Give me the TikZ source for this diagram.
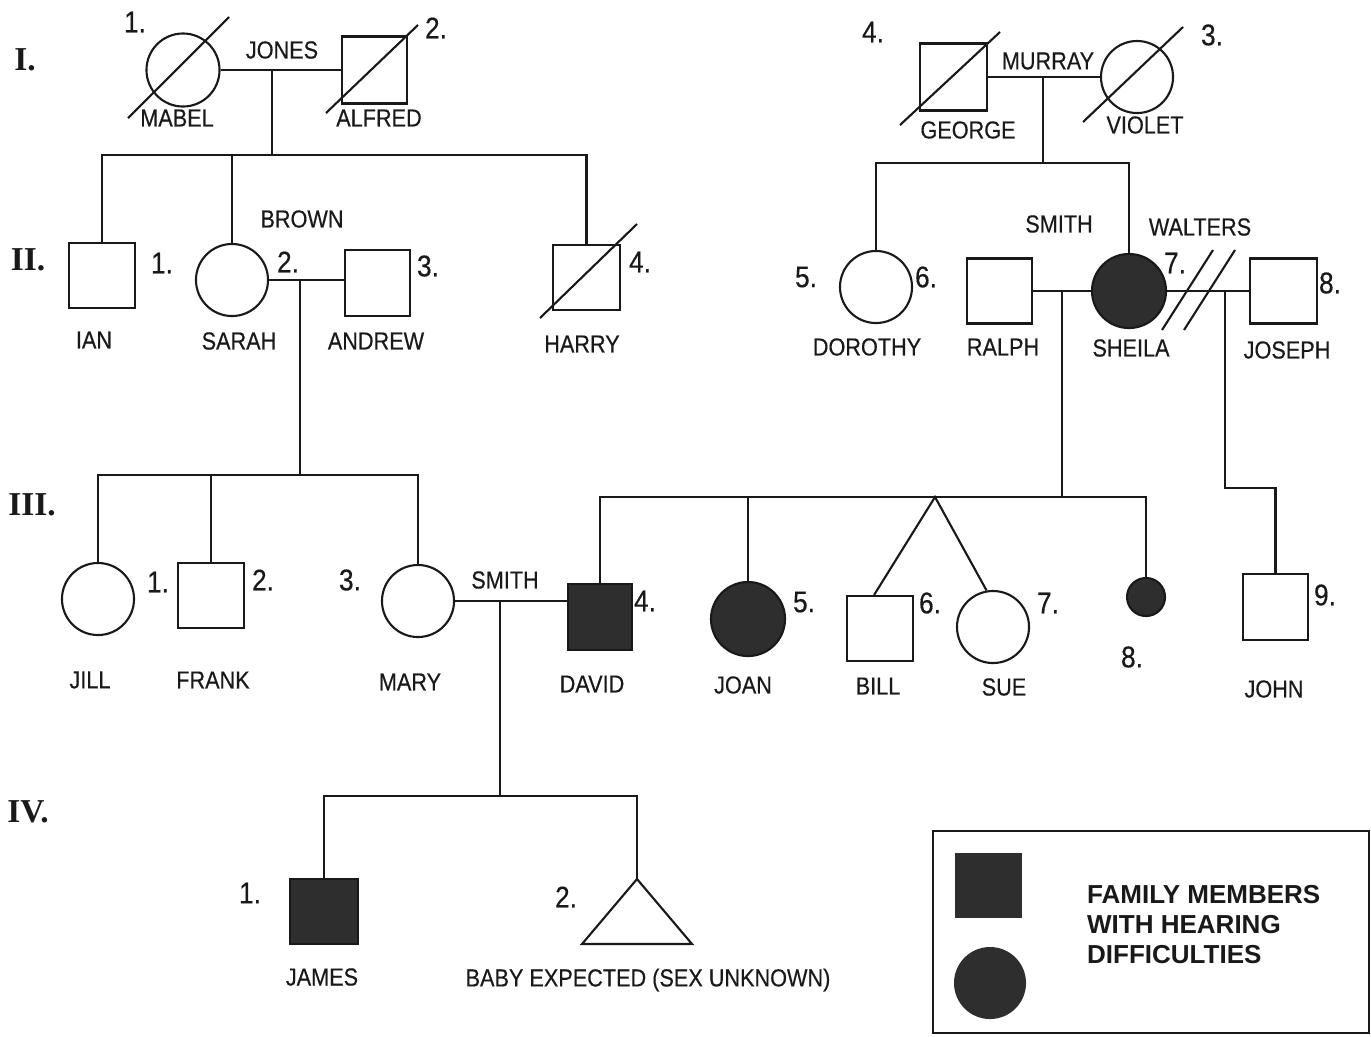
\documentclass[tikz,border=0pt]{standalone}
\usepackage{fontspec}
\setmainfont{Liberation Sans}[FakeStretch=0.88,FakeBold=0.4]
\newfontfamily\legfont{Liberation Sans}
\newfontfamily\romfont{Liberation Serif}
\begin{document}
\begin{tikzpicture}[x=0.01cm,y=-0.01cm, line width=0.6pt, color=black!90,
  sq/.style={draw, rectangle, inner sep=0pt, minimum width=6.6mm, minimum height=6.6mm},
  ci/.style={draw, circle, inner sep=0pt, minimum size=7.2mm},
  aff/.style={fill=black!82},
  nm/.style={inner sep=0pt, font=\fontsize{7}{8}\selectfont},
  nu/.style={inner sep=0pt, font=\fontsize{8.5}{9}\selectfont},
  gen/.style={inner sep=0pt, font=\romfont\bfseries\fontsize{9.5}{10}\selectfont},
  leg/.style={inner sep=0pt, anchor=west, font=\legfont\bfseries\fontsize{7.4}{8}\selectfont}]
\useasboundingbox (0,0) rectangle (1371,1036);

% generation labels
\node[gen] (gI) at (25,60) {I.};
\node[gen] (gII) at (28,260) {II.};
\node[gen] (gIII) at (32,505) {III.};
\node[gen] (gIV) at (28,812) {IV.};

% ---------- Generation I left
\node[ci, minimum size=7.3mm] (mabel) at (183,70) {};
\draw (128,118) -- (229,17);
\node[nu] (n11) at (135,22) {1.};
\node[nm] (tmabel) at (177,118) {MABEL};
\node[sq, minimum width=6.5mm, minimum height=6.7mm] (alfred) at (374.5,70) {};
\draw (326,113) -- (418,25);
\node[nu] (n12) at (436,28) {2.};
\node[nm] (talfred) at (379,118) {ALFRED};
\node[nm] (tjones) at (282,50) {JONES};
\coordinate (mI) at (272,70);
\coordinate (sI) at (272,155);
\draw (mabel.east) -- (alfred.west);
\draw (mI) -- (sI);

% ---------- Generation I right
\node[nu] (n14) at (873,32) {4.};
\node[sq, minimum width=6.7mm, minimum height=6.7mm] (george) at (953.5,77) {};
\draw (900,125) -- (1000,32);
\node[nm] (tgeorge) at (968,130) {GEORGE};
\node[nm] (tmurray) at (1048,61) {MURRAY};
\node[ci] (violet) at (1137,77) {};
\draw (1083,122) -- (1183,27);
\node[nm] (tviolet) at (1145,125) {VIOLET};
\node[nu] (n13) at (1212,35) {3.};
\coordinate (mIr) at (1043,77);
\coordinate (sIr) at (1043,163);
\draw (george.east) -- (violet.west);
\draw (mIr) -- (sIr);

% ---------- Generation II left
\node[sq, minimum width=6.6mm, minimum height=6.5mm] (ian) at (102,275.5) {};
\node[nu] (n21) at (162,263) {1.};
\node[nm] (tian) at (94,340) {IAN};
\node[ci] (sarah) at (232,280) {};
\node[nu] (n22) at (288,262) {2.};
\node[nm] (tsarah) at (239,341) {SARAH};
\node[nm] (tbrown) at (302,219) {BROWN};
\node[sq, minimum width=6.5mm, minimum height=6.6mm] (andrew) at (377.5,283) {};
\node[nu] (n23) at (428,266) {3.};
\node[nm] (tandrew) at (376,341) {ANDREW};
\node[sq, minimum width=6.7mm, minimum height=6.5mm] (harry) at (586.5,277.5) {};
\draw (540,318) -- (637,224);
\node[nu] (n24) at (640,262) {4.};
\node[nm] (tharry) at (582,344) {HARRY};
\draw (ian.north) |- (harry.north |- sI) -- (harry.north);
\draw (sarah.north) -- (sarah.north |- sI);
\coordinate (mII) at (300,280);
\coordinate (sII) at (300,475);
\draw (sarah.east) -- (sarah.east -| andrew.west);
\draw (mII) -- (sII);

% ---------- Generation II right
\node[ci] (dorothy) at (876,287) {};
\node[nu] (n25) at (806,277) {5.};
\node[nu] (n26) at (926,277) {6.};
\node[nm] (tdorothy) at (867,347) {DOROTHY};
\node[sq, minimum width=6.5mm, minimum height=6.5mm] (ralph) at (999.5,291) {};
\node[nm] (tralph) at (1003,347) {RALPH};
\node[nm] (tsmith1) at (1059,224) {SMITH};
\node[ci, aff, minimum size=7.4mm] (sheila) at (1129,291) {};
\node[nu] (n27) at (1175,263) {7.};
\node[nm] (tsheila) at (1131,348) {SHEILA};
\node[nm] (twalters) at (1200,227) {WALTERS};
\node[sq, minimum width=6.7mm, minimum height=6.5mm] (joseph) at (1283.5,291) {};
\node[nu] (n28) at (1330,283) {8.};
\node[nm] (tjoseph) at (1287,350) {JOSEPH};
\draw (dorothy.north) |- (sheila.north |- sIr) -- (sheila.north);
\draw (ralph.east) -- (sheila.west);
\draw (sheila.east) -- (joseph.west);
\draw (1162,330) -- (1213,250);
\draw (1184,330) -- (1235,250);
\coordinate (mIIr) at (1062,291);
\coordinate (sIIr) at (1062,497);
\draw (mIIr) -- (sIIr);
\coordinate (mIIw) at (1225,291);
\coordinate (kIIw) at (1225,488);

% ---------- Generation III left
\node[ci] (jill) at (98,599) {};
\node[nu] (n31) at (158,582) {1.};
\node[nm] (tjill) at (90,680) {JILL};
\node[sq, minimum width=6.6mm, minimum height=6.5mm] (frank) at (211,595.5) {};
\node[nu] (n32) at (263,580) {2.};
\node[nm] (tfrank) at (213,680) {FRANK};
\node[ci] (mary) at (418,601) {};
\node[nu] (n33) at (350,580) {3.};
\node[nm] (tmary) at (410,682) {MARY};
\node[nm] (tsmith2) at (505,580) {SMITH};
\node[sq, aff, minimum width=6.4mm, minimum height=6.6mm] (david) at (600,617) {};
\node[nu] (n34) at (645,601) {4.};
\node[nm] (tdavid) at (592,684) {DAVID};
\draw (jill.north) |- (mary.north |- sII) -- (mary.north);
\draw (frank.north) -- (frank.north |- sII);
\draw (mary.east) -- (mary.east -| david.west);
\coordinate (mIII) at (500,601);
\coordinate (sIII) at (500,796);
\draw (mIII) -- (sIII);

% ---------- Generation III right
\node[ci, aff, minimum size=7.4mm] (joan) at (748,619) {};
\node[nu] (n35) at (804,602) {5.};
\node[nm] (tjoan) at (743,685) {JOAN};
\node[sq, minimum width=6.6mm, minimum height=6.5mm] (bill) at (880,628.5) {};
\node[nu] (n36) at (930,603) {6.};
\node[nm] (tbill) at (878,686) {BILL};
\node[ci] (sue) at (993,627) {};
\node[nu] (n37) at (1048,603) {7.};
\node[nm] (tsue) at (1004,687) {SUE};
\node[ci, aff, minimum size=3.8mm] (baby8) at (1146,597) {};
\node[nu] (n38) at (1132,657) {8.};
\node[sq, minimum width=6.5mm, minimum height=6.6mm] (john) at (1275.5,607) {};
\node[nu] (n39) at (1325,595) {9.};
\node[nm] (tjohn) at (1274,689) {JOHN};
\coordinate (twin) at (935,497);
\draw (david.north) |- (baby8.north |- sIIr) -- (baby8.north);
\draw (joan.north) -- (joan.north |- sIIr);
\draw (bill.100) -- (twin) -- (sue.100);
\draw (mIIw) -- (kIIw) -| (john.north);

% ---------- Generation IV
\node[sq, aff, minimum width=6.8mm, minimum height=6.5mm] (james) at (324,911.5) {};
\node[nu] (n41) at (250,893) {1.};
\node[nm] (tjames) at (322,977) {JAMES};
\coordinate (baby) at (637,879);
\draw (baby) -- (582,944) -- (692,944) -- cycle;
\node[nu] (n42) at (566,897) {2.};
\node[nm] (tbaby) at (648,980) {BABY EXPECTED (SEX UNKNOWN)};
\draw (james.north) |- (baby |- sIII) -- (baby);

% ---------- Legend
\node[draw, rectangle, inner sep=0pt, minimum width=43.6mm, minimum height=20.2mm] (legend) at (1151,932) {};
\node[rectangle, aff, inner sep=0pt, minimum width=6.7mm, minimum height=6.5mm] (legsq) at (988.5,885.5) {};
\node[circle, aff, inner sep=0pt, minimum size=7.2mm] (legci) at (990,983) {};
\node[leg] (l1) at (1086,895) {FAMILY MEMBERS};
\node[leg] (l2) at (1086,925) {WITH HEARING};
\node[leg] (l3) at (1086,955) {DIFFICULTIES};
\end{tikzpicture}
\end{document}
